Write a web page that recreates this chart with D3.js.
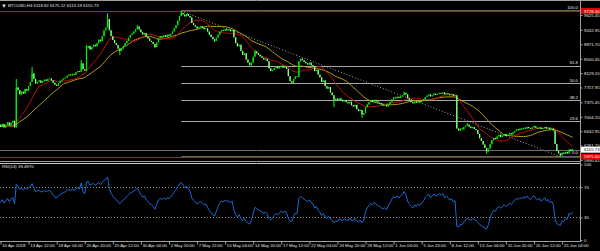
<!DOCTYPE html>
<html>
<head>
<meta charset="utf-8">
<script src="https://cdn.jsdelivr.net/npm/d3@7"></script>
<style>
  body { margin: 0; background: #000; }
  svg { display: block; font-family: "Liberation Sans", Arial, sans-serif; }
  .axis text { fill: #e4e4e4; font-size: 4.3px; }
  .axis line { stroke: #a0a0a0; }
  .axis .domain { display: none; }
  .lbl { fill: #e4e4e4; font-size: 4.3px; }
</style>
</head>
<body>
<div id="chart"></div>
<script>
"use strict";


// Chart data
// ----------

var symbol = "BTCUSD,H4";
var lastBar = ["6118.82", "6175.12", "6113.18", "6155.73"];

// closes before the first visible bar (MA / RSI warm-up)
var priorCloses = [6690, 6780, 6700, 6820, 6880, 6760, 6700, 6810, 6900, 6800,
                   6720, 6660, 6600, 6700, 6790, 6870, 6800, 6720, 6650, 6740,
                   6830, 6780, 6700, 6790, 6720, 6800, 6860, 6780, 6720, 6800];

// H4 closes, 10 Apr 2018 -> 26 Jun 2018
var closes = [
  6740, 6820, 6730, 6790, 6860, 6780, 6850, 6900, 6730, 7760,
  7690, 7580, 7650, 7600, 7720, 7680, 7800, 7900, 8120, 7980,
  7860, 7900, 7940, 7880, 7920, 7960, 7930, 7975, 7990, 7940,
  7880, 7830, 7800, 7870, 7930, 7960, 7990, 8010, 8060, 8090,
  8070, 8110, 8090, 8150, 8180, 8160, 8380, 8230, 8190, 8780,
  8830, 8740, 8800, 8860, 8820, 8900, 8990, 8950, 9080, 9230,
  9300, 9520, 9230, 9080, 8980, 8900, 8850, 8760, 8700, 8760,
  8830, 8900, 8960, 9040, 9110, 9150, 9200, 9260, 9330, 9250,
  9180, 9120, 9160, 9070, 9020, 8960, 8930, 8880, 8800, 8920,
  9030, 9080, 9050, 9100, 9060, 9120, 9090, 9140, 9200, 9280,
  9360, 9480, 9600, 9680, 9640, 9590, 9650, 9600, 9560, 9420,
  9370, 9330, 9280, 9310, 9340, 9300, 9260, 9280, 9200, 9120,
  9060, 9000, 8960, 9040, 9120, 9200, 9240, 9220, 9260, 9230,
  9250, 9210, 9240, 9050, 8900, 8820, 8860, 8700, 8600, 8640,
  8480, 8400, 8330, 8400, 8550, 8690, 8640, 8600, 8560, 8520,
  8480, 8500, 8440, 8250, 8180, 8210, 8260, 8300, 8250, 8290,
  8320, 8270, 8300, 8240, 8050, 7920, 7880, 7980, 8040, 8030,
  8430, 8500, 8460, 8420, 8380, 8350, 8400, 8330, 8300, 8180,
  8210, 8090, 8020, 7900, 7940, 7790, 7730, 7770, 7630, 7560,
  7440, 7470, 7430, 7480, 7440, 7400, 7430, 7380, 7350, 7390,
  7300, 7270, 7310, 7200, 7150, 7180, 7060, 7100, 7250, 7320,
  7380, 7420, 7390, 7440, 7400, 7370, 7350, 7320, 7290, 7310,
  7270, 7330, 7380, 7450, 7500, 7480, 7520, 7490, 7530, 7560,
  7620, 7580, 7480, 7420, 7380, 7350, 7400, 7370, 7410, 7380,
  7420, 7450, 7510, 7550, 7580, 7530, 7560, 7600, 7570, 7590,
  7620, 7600, 7630, 7580, 7610, 7590, 7560, 7580, 7540, 7560,
  6700, 6650, 6700, 6680, 6740, 6770, 6800, 6750, 6710, 6740,
  6690, 6660, 6560, 6450, 6380, 6290, 6200, 6110, 6180, 6300,
  6400, 6460, 6430, 6500, 6540, 6480, 6520, 6560, 6510, 6540,
  6580, 6550, 6600, 6640, 6680, 6660, 6700, 6680, 6720, 6700,
  6740, 6710, 6690, 6730, 6760, 6720, 6700, 6730, 6690, 6710,
  6740, 6700, 6720, 6680, 6700, 6650, 6300, 6120, 6060, 6010,
  6080, 6050, 6100, 6060, 6160, 6118.82, 6155.73
];

// visible wicks: [bar, high, low]
var extremes = [
  [9, 7977, null], [18, 8290, null], [46, 8466, null], [49, 8850, null],
  [61, 9670, null], [68, null, 8595], [78, 9370, null], [88, null, 8770],
  [103, 9728.30, null], [122, null, 8930], [145, 8720, null], [190, null, 7255],
  [206, null, 6973], [230, 7650, null], [266, 6840, null], [277, null, 6045],
  [304, 6775, null], [319, null, 5975.60], [326, 6175.12, 6113.18]
];

var timeLabels = ["10 Apr 2018", "13 Apr 12:00", "18 Apr 04:00", "20 Apr 20:00",
  "25 Apr 12:00", "30 Apr 04:00", "2 May 20:00", "7 May 12:00", "10 May 04:00",
  "14 May 20:00", "17 May 12:00", "22 May 04:00", "24 May 20:00", "29 May 12:00",
  "1 Jun 04:00", "5 Jun 20:00", "8 Jun 12:00", "13 Jun 04:00", "15 Jun 20:00",
  "20 Jun 12:00", "25 Jun 04:00"];
var labelEvery = 16;

var priceLabels = [9625.45, 9242.95, 8871.70, 8500.45, 8129.20, 7757.95,
                   7375.45, 7004.20, 6632.95, 6261.70, 5890.45];

var fibLevels = [0, 23.6, 38.2, 50, 61.8, 100];
var fibFrom = 103, fibTo = 319;

var maFast = 14, maSlow = 28, rsiPeriod = 14;
var rsiText = "RSI(14) 39.4970";
var rsiTicks = [100, 70, 30, 0];
var rsiLevels = [70, 30];


// Box sizing
// ----------

var W = 600, H = 251,
    right = 580,
    step = 1.755,
    main = {top: 2, bottom: 161},
    sub = {top: 164, bottom: 241};

var svg = d3.select("#chart").append("svg")
    .attr("width", W)
    .attr("height", H);

svg.append("rect").attr("width", W).attr("height", H).attr("fill", "#000");

var defs = svg.append("defs");
defs.append("clipPath").attr("id", "clipMain").append("rect")
    .attr("x", 0).attr("y", main.top).attr("width", right).attr("height", main.bottom - main.top);
defs.append("clipPath").attr("id", "clipSub").append("rect")
    .attr("x", 0).attr("y", sub.top).attr("width", right).attr("height", sub.bottom - sub.top);


// Series
// ------

var N = closes.length,
    P = priorCloses.length,
    all = priorCloses.concat(closes);

var bars = closes.map(function(c, i) {
  var o = all[P + i - 1];
  return {i: i, o: o, c: c, h: Math.max(o, c), l: Math.min(o, c)};
});
extremes.forEach(function(e) {
  var b = bars[e[0]];
  if (e[1] != null) b.h = Math.max(b.h, e[1]);
  if (e[2] != null) b.l = Math.min(b.l, e[2]);
});

function sma(n) {
  return closes.map(function(c, i) {
    var k = P + i;
    return d3.mean(all.slice(k - n + 1, k + 1));
  });
}

function rsi(n) {
  var out = [], g = 0, l = 0;
  for (var k = 1; k < all.length; k++) {
    var d = all[k] - all[k - 1],
        up = Math.max(d, 0),
        dn = Math.max(-d, 0);
    if (k <= n) { g += up / n; l += dn / n; }
    else { g = (g * (n - 1) + up) / n; l = (l * (n - 1) + dn) / n; }
    if (k >= P) out.push(l === 0 ? 100 : 100 - 100 / (1 + g / l));
  }
  return out;
}

var fast = sma(maFast), slow = sma(maSlow), osc = rsi(rsiPeriod);
var hi = bars[fibFrom].h, lo = bars[fibTo].l;


// Scales
// ------

var x = d3.scaleLinear().domain([0, N - 1]).range([0.5, 0.5 + step * (N - 1)]);
var y = d3.scaleLinear().domain([5890.45, 9625.45]).range([160, 15]);
var yr = d3.scaleLinear().domain([0, 100]).range([240, 164.5]);

function px(v) { return Math.round(y(v)) + 0.5; }


// Frame
// -----

var frame = svg.append("g").attr("stroke", "#a0a0a0").attr("stroke-width", 1);
frame.append("line").attr("x1", 0).attr("x2", W).attr("y1", 0.5).attr("y2", 0.5);
frame.append("line").attr("x1", 0).attr("x2", right).attr("y1", 161.5).attr("y2", 161.5);
frame.append("line").attr("x1", 0).attr("x2", right).attr("y1", 163.5).attr("y2", 163.5)
    .attr("stroke", "#c8c8c8");
frame.append("line").attr("x1", 0).attr("x2", right).attr("y1", 241.5).attr("y2", 241.5);
frame.append("line").attr("x1", right + 0.5).attr("x2", right + 0.5).attr("y1", 1).attr("y2", 242);


// Main window
// -----------

var gm = svg.append("g").attr("clip-path", "url(#clipMain)");

// full-width red lines at the swing high and low
gm.selectAll(".hl").data([hi, lo]).join("line")
    .attr("x1", 0).attr("x2", right)
    .attr("y1", px).attr("y2", px)
    .attr("stroke", "#c81414");

// fibonacci levels
var fib = gm.append("g");
fib.selectAll("line").data(fibLevels).join("line")
    .attr("x1", x(fibFrom)).attr("x2", right)
    .attr("y1", function(d) { return px(lo + (hi - lo) * d / 100) - 1; })
    .attr("y2", function(d) { return px(lo + (hi - lo) * d / 100) - 1; })
    .attr("stroke", "#a8a8a8")
    .attr("stroke-opacity", function(d) { return (d == 0 || d == 100) ? 0.6 : 1; });
fib.selectAll("text").data(fibLevels).join("text")
    .attr("class", "lbl")
    .attr("x", right - 2)
    .attr("y", function(d) { return y(lo + (hi - lo) * d / 100) - 2.2; })
    .attr("text-anchor", "end")
    .text(function(d) { return d.toFixed(1); });

// fibonacci trend line
gm.append("line")
    .attr("x1", x(fibFrom)).attr("y1", y(hi))
    .attr("x2", x(fibTo)).attr("y2", y(lo))
    .attr("stroke", "#a8a8a8")
    .attr("stroke-dasharray", "1,2");

// bid line
gm.append("line")
    .attr("x1", 0).attr("x2", right)
    .attr("y1", px(closes[N - 1])).attr("y2", px(closes[N - 1]))
    .attr("stroke", "#707070");

// moving averages
var maLine = d3.line().x(function(d, i) { return x(i); }).y(function(d) { return y(d); });
gm.append("path").attr("d", maLine(slow)).attr("fill", "none")
    .attr("stroke", "#b4a214").attr("stroke-width", 1);
gm.append("path").attr("d", maLine(fast)).attr("fill", "none")
    .attr("stroke", "#c40e0e").attr("stroke-width", 1);

// candles
var gc = gm.append("g");
gc.selectAll("line").data(bars).join("line")
    .attr("x1", function(d) { return x(d.i); })
    .attr("x2", function(d) { return x(d.i); })
    .attr("y1", function(d) { return y(d.h); })
    .attr("y2", function(d) { return y(d.l); })
    .attr("stroke", "#00ff00")
    .attr("stroke-width", 1);
gc.selectAll("rect").data(bars).join("rect")
    .attr("x", function(d) { return x(d.i) - 0.6; })
    .attr("width", 1.2)
    .attr("y", function(d) { return y(Math.max(d.o, d.c)); })
    .attr("height", function(d) { return Math.max(0.7, Math.abs(y(d.o) - y(d.c))); })
    .attr("fill", function(d) { return d.c >= d.o ? "#00f000" : "#9cff9c"; });

// header
svg.append("path")
    .attr("d", d3.symbol(d3.symbolTriangle, 6)())
    .attr("transform", "translate(4,5.5) rotate(180)")
    .attr("fill", "#e4e4e4");
svg.append("text").attr("class", "lbl")
    .attr("x", 8).attr("y", 7.3)
    .text(symbol + "  " + lastBar.join(" "));


// Price axis
// ----------

svg.append("g")
    .attr("class", "axis")
    .attr("transform", "translate(" + (right + 0.5) + ",0)")
    .call(d3.axisRight(y).tickValues(priceLabels).tickSize(2).tickPadding(1.5)
      .tickFormat(d3.format(".2f")));

function priceBox(v, fill, color) {
  var g = svg.append("g");
  g.append("rect")
      .attr("x", right + 1).attr("width", W - right - 1)
      .attr("y", y(v) - 3).attr("height", 6)
      .attr("fill", fill);
  g.append("text").attr("class", "lbl")
      .attr("x", right + 4).attr("y", y(v) + 1.5)
      .style("fill", color)
      .text(d3.format(".2f")(v));
}
priceBox(hi, "#e00000", "#ffffff");
priceBox(lo, "#e00000", "#ffffff");
priceBox(closes[N - 1], "#ffffff", "#000000");


// RSI window
// ----------

var gs = svg.append("g").attr("clip-path", "url(#clipSub)");

gs.selectAll("line").data(rsiLevels).join("line")
    .attr("x1", 0).attr("x2", right)
    .attr("y1", function(d) { return Math.round(yr(d)) + 0.5; })
    .attr("y2", function(d) { return Math.round(yr(d)) + 0.5; })
    .attr("stroke", "#8c8c8c")
    .attr("stroke-dasharray", "1,2");

gs.append("path")
    .attr("d", d3.line().x(function(d, i) { return x(i); }).y(function(d) { return yr(d); })(osc))
    .attr("fill", "none")
    .attr("stroke", "#1e6ad2")
    .attr("stroke-width", 1);

svg.append("text").attr("class", "lbl")
    .attr("x", 2).attr("y", 168)
    .text(rsiText);

svg.append("g")
    .attr("class", "axis")
    .attr("transform", "translate(" + (right + 0.5) + ",0)")
    .call(d3.axisRight(yr).tickValues(rsiTicks).tickSize(2).tickPadding(1.5));


// Time axis
// ---------

var tAxis = svg.append("g")
    .attr("class", "axis")
    .attr("transform", "translate(0,241.5)")
    .call(d3.axisBottom(x).tickValues(d3.range(0, N, labelEvery)).tickSize(3)
      .tickFormat(function(d) { return timeLabels[d / labelEvery]; }));
tAxis.selectAll("text")
    .attr("text-anchor", "start")
    .attr("x", 1.2)
    .attr("y", 2.2)
    .attr("dy", "0.71em");

</script>
</body>
</html>
